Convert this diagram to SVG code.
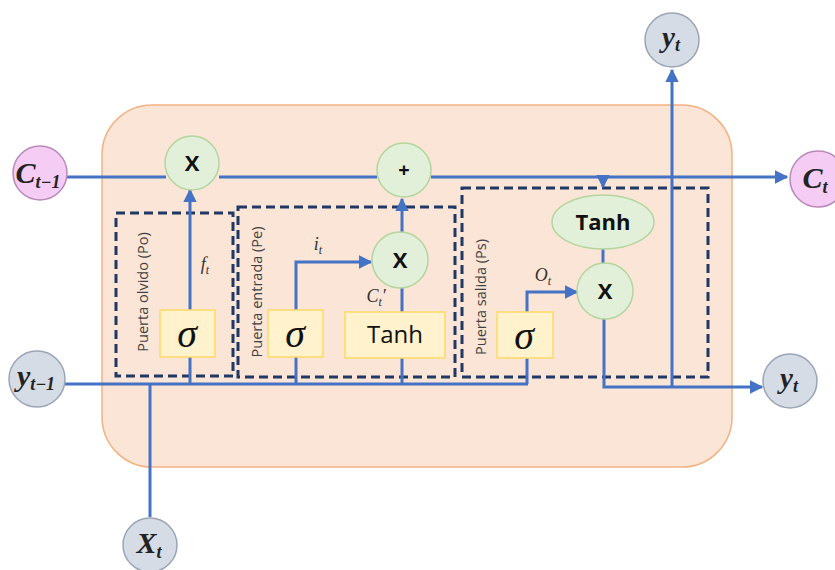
<svg xmlns="http://www.w3.org/2000/svg" width="835" height="570" viewBox="0 0 835 570">
<defs>
<marker id="ah" viewBox="0 0 10 10" refX="9" refY="5" markerWidth="4.5" markerHeight="4.5" orient="auto" markerUnits="strokeWidth">
<path d="M0,0 L10,5 L0,10 Z" fill="#4472C4"/>
</marker>
<style>
.ln{fill:none;stroke:#4472C4;stroke-width:3}
.arr{fill:none;stroke:#4472C4;stroke-width:3;marker-end:url(#ah)}
.gate{fill:none;stroke:#203864;stroke-width:3;stroke-dasharray:9,5}
.op{fill:#E2F0D9;stroke:#B4D5A0;stroke-width:1.5}
.sig{fill:#FFF2CC;stroke:#FFD966;stroke-width:1.5}
.pink{fill:#F4CCF4;stroke:#B88AB8;stroke-width:1.5}
.gray{fill:#D6DCE5;stroke:#9AA5B5;stroke-width:1.5}
.opt{font-family:"Open Sans","Liberation Sans",sans-serif;font-weight:bold;fill:#111;text-anchor:middle}
.sg{font-family:"Liberation Serif",serif;font-style:italic;font-size:40px;fill:#111;text-anchor:middle}
.var{font-family:"Liberation Serif",serif;font-style:italic;font-weight:bold;fill:#222;text-anchor:middle}
.lab{font-family:"Liberation Serif",serif;font-style:italic;font-size:18px;fill:#333;text-anchor:middle}
.gt{font-family:"Open Sans","Liberation Sans",sans-serif;font-size:14.5px;fill:#404040;text-anchor:middle}
</style>
</defs>

<rect id="cell" x="102" y="105" width="630" height="362" rx="50" ry="50" fill="#FBE5D6" stroke="#F4B183" stroke-width="1.5"/>

<g id="gates">
<rect id="gate-po" class="gate" x="116" y="213" width="117" height="163"/>
<rect id="gate-pe" class="gate" x="238" y="207" width="217" height="170"/>
<rect id="gate-ps" class="gate" x="462" y="188" width="246" height="189"/>
<text class="gt" transform="translate(148,292) rotate(-90)">Puerta olvido (Po)</text>
<text class="gt" transform="translate(262,292) rotate(-90)">Puerta entrada (Pe)</text>
<text class="gt" transform="translate(486,297) rotate(-90)">Puerta salida (Ps)</text>
</g>

<g id="connectors">
<path class="ln" d="M67,177 H166"/>
<path class="ln" d="M219,177 H377"/>
<path class="arr" d="M431,177 H787"/>
<path class="ln" d="M64,384 H528"/>
<path class="ln" d="M150,517 V384"/>
<path class="ln" d="M190,384 V357"/>
<path class="arr" d="M190,310 V190"/>
<path class="ln" d="M296,384 V357"/>
<path class="arr" d="M296,310 V262 H371"/>
<path class="ln" d="M402,384 V358"/>
<path class="ln" d="M402,312 V288"/>
<path class="arr" d="M402,233 V199"/>
<path class="arr" d="M603,177 V187"/>
<path class="ln" d="M603,248 V263"/>
<path class="ln" d="M527,384 V358"/>
<path class="arr" d="M527,312 V292 H577"/>
<path class="arr" d="M604,319 V387 H762"/>
<path class="arr" d="M672,387 V70"/>
</g>

<g id="n-ct1"><circle class="pink" cx="40" cy="173" r="27"/><text class="var" x="38" y="183" font-size="30">C<tspan font-size="18" dy="5">t−1</tspan></text></g>
<g id="n-ct"><circle class="pink" cx="818" cy="179" r="28"/><text class="var" x="815" y="188" font-size="30">C<tspan font-size="18" dy="5">t</tspan></text></g>
<g id="n-yt1"><circle class="gray" cx="37" cy="379" r="28"/><text class="var" x="36" y="386" font-size="30">y<tspan font-size="18" dy="4">t−1</tspan></text></g>
<g id="n-yt"><circle class="gray" cx="790" cy="381" r="27"/><text class="var" x="789" y="388" font-size="29">y<tspan font-size="18" dy="4">t</tspan></text></g>
<g id="n-yt-top"><circle class="gray" cx="672" cy="40" r="27"/><text class="var" x="671" y="47" font-size="29">y<tspan font-size="18" dy="4">t</tspan></text></g>
<g id="n-xt"><circle class="gray" cx="150" cy="545" r="27"/><text class="var" x="149" y="553" font-size="30">X<tspan font-size="18" dy="5">t</tspan></text></g>

<g id="n-mul-f"><circle class="op" cx="192" cy="163" r="27"/><text class="opt" x="192" y="171" font-size="22">X</text></g>
<g id="n-add"><circle class="op" cx="404" cy="170" r="27"/><text class="opt" x="404" y="177" font-size="20">+</text></g>
<g id="n-mul-i"><circle class="op" cx="400" cy="260" r="28"/><text class="opt" x="400" y="268" font-size="22">X</text></g>
<g id="n-mul-o"><circle class="op" cx="605" cy="291" r="28"/><text class="opt" x="605" y="299" font-size="22">X</text></g>
<g id="n-tanh-o"><ellipse class="op" cx="603" cy="222" rx="51" ry="27"/><text class="opt" x="603" y="230" font-size="22">Tanh</text></g>

<g id="n-sig-f"><rect class="sig" x="160" y="310" width="55" height="47"/><text class="sg" x="187" y="347">σ</text></g>
<g id="n-sig-i"><rect class="sig" x="268" y="310" width="55" height="47"/><text class="sg" x="295" y="347">σ</text></g>
<g id="n-tanh-i"><rect class="sig" x="345" y="312" width="100" height="46"/><text x="395" y="343" font-family="'Open Sans','Liberation Sans',sans-serif" font-size="24" fill="#111" text-anchor="middle">Tanh</text></g>
<g id="n-sig-o"><rect class="sig" x="497" y="312" width="56" height="46"/><text class="sg" x="524" y="349">σ</text></g>

<g id="labels">
<text class="lab" x="205" y="270">f<tspan font-size="12" dy="4">t</tspan></text>
<text class="lab" x="318" y="250">i<tspan font-size="12" dy="4">t</tspan></text>
<text class="lab" x="376" y="302">C<tspan font-size="12" dy="4">t</tspan><tspan dy="-4">'</tspan></text>
<text class="lab" x="543" y="281">O<tspan font-size="12" dy="4">t</tspan></text>
</g>
</svg>
